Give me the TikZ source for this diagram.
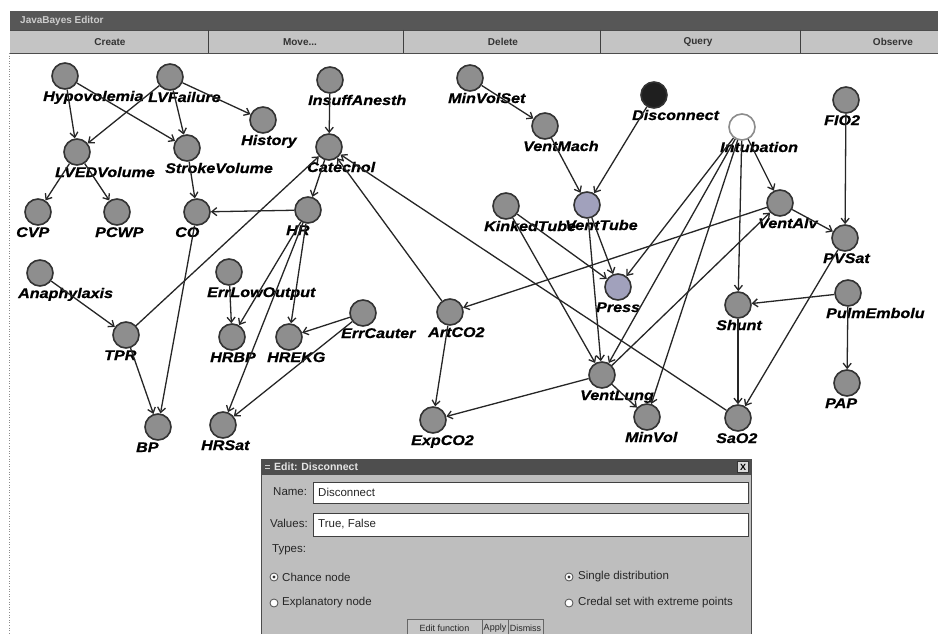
\documentclass[tikz,border=0pt]{standalone}
\usepackage{fontspec}
\setmainfont{Liberation Sans}
\newfontfamily\netfont[FakeStretch=1.15, BoldItalicFeatures={FakeBold=0.8}]{Liberation Sans}
\usetikzlibrary{arrows.meta}

\definecolor{nodefill}{HTML}{8E8E8E}
\definecolor{nodeedge}{HTML}{333333}
\definecolor{edgecol}{HTML}{262626}
\definecolor{titlebar}{HTML}{575757}
\definecolor{btnbg}{HTML}{C4C4C4}
\definecolor{dlgbg}{HTML}{BEBEBE}
\definecolor{dlgtitle}{HTML}{4E4E4E}

% a network variable: circle plus its name, set from the circle's left side
\newcommand{\netnode}[5][]{%
  \node[bn,#1] (#2) at (#3,#4) {};
  \node[lbl] (#2-lbl) at ({#3-22},{#4+25}) {#5};}

\begin{document}
\begin{tikzpicture}[x=1pt,y=-1pt,
  bn/.style={circle, draw=nodeedge, fill=nodefill, line width=1.6pt,
    minimum size=26pt, inner sep=0pt},
  lbl/.style={font=\netfont\bfseries\itshape\fontsize{14}{14}\selectfont,
    inner sep=0pt, anchor=base west},
  edge/.style={draw=edgecol, line width=1.3pt,
    -{Straight Barb[length=5pt,width=8pt]}},
  btntext/.style={font=\bfseries\fontsize{10}{10}\selectfont, text=black!80, inner sep=0pt},
  dlgtext/.style={font=\fontsize{11.5}{11.5}\selectfont, text=black!85, inner sep=0pt, anchor=west},
  btnlbl/.style={font=\fontsize{9}{9}\selectfont, text=black!85, inner sep=0pt},
  field/.style={fill=white, draw=black!75, line width=0.8pt},
  radio/.style={circle, draw=black!70, fill=white, line width=0.8pt, minimum size=8pt, inner sep=0pt},
  dlgbtn/.style={draw=black!60, line width=0.8pt, fill=dlgbg!90!white}
]
\useasboundingbox (0,0) rectangle (938,634);
\fill[white] (0,0) rectangle (938,634);

% ---- editor window chrome ----
\fill[titlebar] (10,11) rectangle (938,30);
\node[font=\bfseries\fontsize{10}{10}\selectfont, text=white!80!black, anchor=west, inner sep=0pt]
  (wintitle) at (20,21) {JavaBayes Editor};
\fill[btnbg] (10,30) rectangle (938,53);
\draw[black!70, line width=0.8pt] (10,30) -- (938,30) (10,53) -- (938,53);
\foreach \bx in {208,403,600,800}
  \draw[black!75, line width=1pt] (\bx,30) -- (\bx,53);
\node[btntext] (bcreate) at (110,42) {Create};
\node[btntext] (bmove) at (300,42) {Move...};
\node[btntext] (bdelete) at (503,42) {Delete};
\node[btntext] (bquery) at (698,42) {Query};
\node[btntext] (bobserve) at (893,42) {Observe};
\draw[black!45, line width=0.6pt, dotted] (9,53) -- (9,634);

% ---- network variables ----
\netnode{hypo}{65}{76}{Hypovolemia}
\netnode{lvf}{170}{77}{LVFailure}
\netnode{hist}{263}{120}{History}
\netnode{lved}{77}{152}{LVEDVolume}
\netnode{sv}{187}{148}{StrokeVolume}
\netnode{cvp}{38}{212}{CVP}
\netnode{pcwp}{117}{212}{PCWP}
\netnode{co}{197}{212}{CO}
\netnode{hr}{308}{210}{HR}
\netnode{insuff}{330}{80}{InsuffAnesth}
\netnode{cat}{329}{147}{Catechol}
\netnode{mvs}{470}{78}{MinVolSet}
\netnode{vmach}{545}{126}{VentMach}
\netnode[fill=nodefill!85!blue!70!white]{vtube}{587}{205}{VentTube}
\netnode{kink}{506}{206}{KinkedTube}
\netnode[fill=black!88]{disc}{654}{95}{Disconnect}
\netnode[fill=white, draw=black!45]{intub}{742}{127}{Intubation}
\netnode{fio2}{846}{100}{FIO2}
\netnode{valv}{780}{203}{VentAlv}
\netnode{pvsat}{845}{238}{PVSat}
\netnode{anaph}{40}{273}{Anaphylaxis}
\netnode{tpr}{126}{335}{TPR}
\netnode{bp}{158}{427}{BP}
\netnode{elo}{229}{272}{ErrLowOutput}
\netnode{hrbp}{232}{337}{HRBP}
\netnode{hrekg}{289}{337}{HREKG}
\netnode{ecaut}{363}{313}{ErrCauter}
\netnode{hrsat}{223}{425}{HRSat}
\netnode{art}{450}{312}{ArtCO2}
\netnode{exp}{433}{420}{ExpCO2}
\netnode[fill=nodefill!85!blue!70!white]{press}{618}{287}{Press}
\netnode{vlung}{602}{375}{VentLung}
\netnode{minvol}{647}{417}{MinVol}
\netnode{shunt}{738}{305}{Shunt}
\netnode{sao2}{738}{418}{SaO2}
\netnode{pulm}{848}{293}{PulmEmbolu}
\netnode{pap}{847}{383}{PAP}

% ---- dependencies ----
\foreach \p/\c in {hypo/lved, hypo/sv, lvf/lved, lvf/sv, lvf/hist,
    lved/cvp, lved/pcwp, sv/co, hr/co, co/bp, tpr/bp, anaph/tpr,
    tpr/cat, insuff/cat, art/cat, sao2/cat, cat/hr,
    hr/hrbp, hr/hrekg, hr/hrsat, elo/hrbp, ecaut/hrekg, ecaut/hrsat,
    mvs/vmach, vmach/vtube, disc/vtube,
    kink/press, kink/vlung, vtube/press, vtube/vlung,
    intub/press, intub/vlung, intub/minvol, intub/shunt, intub/valv,
    vlung/valv, valv/art, valv/pvsat, fio2/pvsat,
    art/exp, vlung/exp, vlung/minvol, pvsat/sao2, shunt/sao2,
    pulm/shunt, pulm/pap}
  \draw[edge] (\p) -- (\c);

% ---- node editing dialog ----
\fill[dlgbg] (261,459) rectangle (751,634);
\draw[black!70, line width=1pt] (261,634) -- (261,459) -- (751,459) -- (751,634);
\fill[dlgtitle] (261,459) rectangle (751,475);
\node[font=\bfseries\fontsize{10.5}{10.5}\selectfont, text=white!90!black, anchor=west, inner sep=0pt]
  (dlgtitle) at (274,467) {Edit: Disconnect};
\draw[white!80!black, line width=0.8pt] (265,465) -- (270,465) (265,468) -- (270,468);
\node[draw=black!80, fill=white!85!black, minimum size=11pt, inner sep=0pt,
  font=\bfseries\fontsize{9}{9}\selectfont] (closebox) at (743,467) {X};

\node[dlgtext] (namelbl) at (273,492) {Name:};
\draw[field] (313,482) rectangle (748,503);
\node[dlgtext] (nameval) at (318,492.5) {Disconnect};
\node[dlgtext] (vallbl) at (270,523) {Values:};
\draw[field] (313,513) rectangle (748,536);
\node[dlgtext] (valval) at (318,524.5) {True, False};
\node[dlgtext] (typelbl) at (272,550) {Types:};

\node[radio] (rchance) at (274,577) {};
\fill[black!80] (rchance) circle (1.6pt);
\node[dlgtext] (tchance) at (282,577) {Chance node};
\node[radio] (rexpl) at (274,603) {};
\node[dlgtext] (texpl) at (282,603) {Explanatory node};
\node[radio] (rsingle) at (569,577) {};
\fill[black!80] (rsingle) circle (1.6pt);
\node[dlgtext] (tsingle) at (578,577) {Single distribution};
\node[radio] (rcredal) at (569,603) {};
\node[dlgtext] (tcredal) at (578,603) {Credal set with extreme points};

\draw[dlgbtn] (407,619) rectangle (482,640);
\node[btnlbl] (bedit) at (444.5,628) {Edit function};
\draw[dlgbtn] (482,619) rectangle (508,640);
\node[btnlbl] (bapply) at (495,628) {Apply};
\draw[dlgbtn] (508,619) rectangle (543,640);
\node[btnlbl] (bdismiss) at (525.5,628) {Dismiss};
\end{tikzpicture}
\end{document}
